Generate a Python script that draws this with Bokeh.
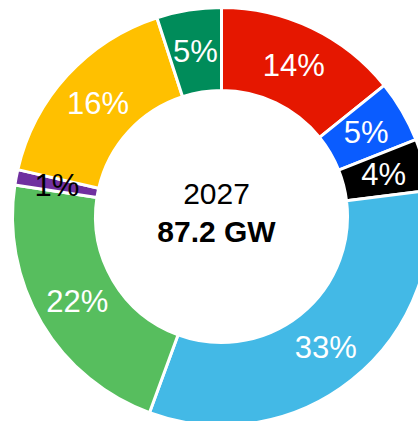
import numpy as np
from bokeh.plotting import figure
from bokeh.models import Range1d, ColumnDataSource
from bokeh.core.properties import value
from bokeh.embed import file_html
from bokeh.resources import INLINE

# shares of 2027 capacity (%), clockwise from 12 o'clock
shares = [14.2, 4.8, 4.0, 32.6, 21.8, 1.2, 16.4, 5.0]
colors = ["#e51700", "#0a5cff", "#000000", "#43b9e6", "#57be5e", "#7030a0", "#ffc000", "#008c5a"]
label_colors = ["white", "white", "white", "white", "white", "black", "white", "white"]
year = "2027"
total = "87.2 GW"

W, H = 418, 421
cx, cy = 221, 216  # donut centre in figure pixels from left/top
R_OUT, R_IN = 209, 126

frac = np.array(shares) / sum(shares)
cum = np.concatenate([[0], np.cumsum(frac)])
start = np.pi / 2 - 2 * np.pi * cum[:-1]
end = np.pi / 2 - 2 * np.pi * cum[1:]
mid = (start + end) / 2
r_lab = (R_OUT + R_IN) / 2
src = ColumnDataSource(dict(
    start=start, end=end, color=colors,
    lx=r_lab * np.cos(mid), ly=r_lab * np.sin(mid),
    lab=[f"{round(s)}%" for s in shares], lc=label_colors,
))

p = figure(width=W, height=H, output_backend="svg", toolbar_location=None,
           x_range=Range1d(-cx, W - cx), y_range=Range1d(-(H - cy), cy),
           min_border=0, outline_line_color=None)
p.axis.visible = False
p.grid.visible = False
p.background_fill_color = "white"
p.border_fill_color = "white"

p.annular_wedge(x=0, y=0, inner_radius=R_IN, outer_radius=R_OUT,
                start_angle="start", end_angle="end", direction="clock",
                fill_color="color", line_color="white", line_width=3, source=src)

p.text(x="lx", y="ly", text="lab", text_color="lc", source=src,
       text_font=value("Liberation Sans"), text_font_size="31px",
       text_align="center", text_baseline="middle")

p.text(x=[-5], y=[23], text=[year], text_font=value("Liberation Sans"),
       text_font_size="30px", text_color="black",
       text_align="center", text_baseline="middle")
p.text(x=[-5], y=[-15], text=[total], text_font=value("Liberation Sans"),
       text_font_size="30px", text_font_style="bold", text_color="black",
       text_align="center", text_baseline="middle")

open("out.html", "w").write(file_html(p, INLINE))
